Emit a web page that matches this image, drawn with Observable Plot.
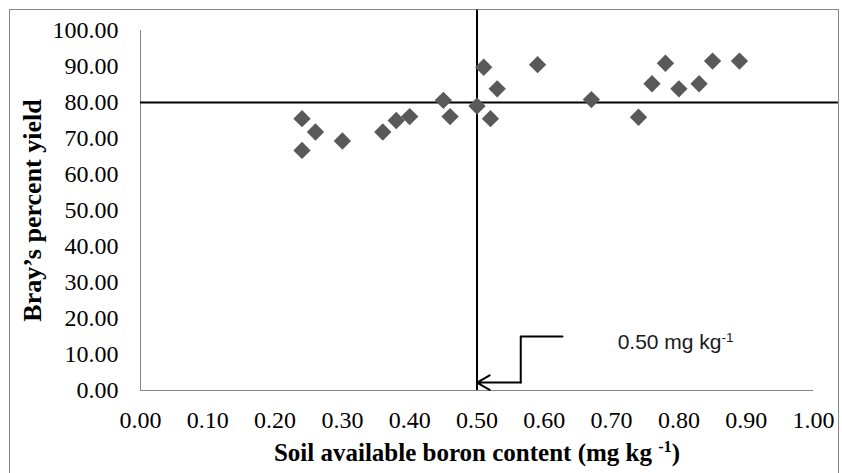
<!DOCTYPE html>
<html>
<head>
<meta charset="utf-8">
<script src="https://cdn.jsdelivr.net/npm/d3@7"></script>
<script src="https://cdn.jsdelivr.net/npm/@observablehq/plot@0.6"></script>
<style>
  html, body { margin: 0; padding: 0; background: #fff; }
  #wrap { position: relative; width: 842px; height: 473px; overflow: hidden; }
  #border { position: absolute; left: 9px; top: 9px; width: 830px; height: 480px; border: 1px solid #868686; box-sizing: border-box; }
  #chart { position: absolute; left: 0; top: 0; }
</style>
</head>
<body>
<div id="wrap"><div id="border"></div><div id="chart"></div></div>
<script>
// Soil available boron content (mg kg-1)
const boron = [0.24, 0.26, 0.24, 0.30, 0.36, 0.38, 0.40, 0.45, 0.46, 0.50, 0.51, 0.53, 0.52,
               0.59, 0.67, 0.74, 0.76, 0.78, 0.80, 0.83, 0.85, 0.89];
// Bray's percent yield
const yieldPct = [75.5, 71.8, 66.7, 69.3, 71.8, 75.0, 76.1, 80.6, 76.1, 79.0, 89.8, 83.8, 75.5,
                  90.5, 80.8, 75.9, 85.2, 90.9, 83.8, 85.2, 91.5, 91.5];
const xTicks = [0, 0.1, 0.2, 0.3, 0.4, 0.5, 0.6, 0.7, 0.8, 0.9, 1.0];
const yTicks = [0, 10, 20, 30, 40, 50, 60, 70, 80, 90, 100];
// critical limit lines
const criticalBoron = 0.50;
const criticalYield = 80;
// extents of the critical lines in data units
const vLineY = [0, 105.6];
const hLineX = [0, 1.037];
// callout connector (data units)
const calloutX = [0.627, 0.565, 0.565];
const calloutY = [15, 15, 2.2];
const calloutLabel = "0.50 mg kg-1";
const calloutLabelX = 0.709;

const points = boron.map((b, i) => ({b, y: yieldPct[i]}));
const callout = calloutX.map((x, i) => ({x, y: calloutY[i]}));

const chart = Plot.plot({
  width: 842,
  height: 473,
  marginLeft: 140,
  marginRight: 29,
  marginTop: 30,
  marginBottom: 83,
  style: {fontFamily: "'Liberation Serif', serif", fontSize: "24px", color: "#000", background: "transparent"},
  x: {domain: [0, 1], ticks: xTicks},
  y: {domain: [0, 100], ticks: yTicks},
  marks: [
    Plot.ruleX([0], {y1: 0, y2: 100, stroke: "#868686", strokeWidth: 1}),
    Plot.ruleY([0], {x1: 0, x2: 1, stroke: "#868686", strokeWidth: 1}),
    Plot.axisX({ticks: xTicks, tickSize: 0, tickPadding: 20, tickFormat: d => d.toFixed(2), fontSize: 24, label: null}),
    Plot.axisY({ticks: yTicks, tickSize: 0, tickPadding: 22, tickFormat: d => d.toFixed(2), fontSize: 24, label: null}),
    Plot.ruleX([criticalBoron], {y1: vLineY[0], y2: vLineY[1], stroke: "#000", strokeWidth: 2}),
    Plot.ruleY([criticalYield], {x1: hLineX[0], x2: hLineX[1], stroke: "#000", strokeWidth: 2}),
    Plot.dot(points, {x: "b", y: "y", symbol: "diamond2", r: 7.8, fill: "#595959", stroke: "none"}),
    Plot.line(callout, {x: "x", y: "y", stroke: "#000", strokeWidth: 2}),
    Plot.arrow([0], {x1: calloutX[2], y1: calloutY[2], x2: criticalBoron, y2: calloutY[2], stroke: "#000", strokeWidth: 2, headLength: 16, headAngle: 60}),
    Plot.text([calloutLabel], {x: calloutLabelX, y: calloutY[0], text: d => d, textAnchor: "start", dy: 6, fill: "#1a1a1a", fontFamily: "'Liberation Sans', sans-serif", fontSize: 21, className: "callout-label"}),
    Plot.text(["Bray\u2019s percent yield"], {frameAnchor: "left", textAnchor: "middle", dx: -108, rotate: -90, text: d => d, fontWeight: "bold", fontSize: 26}),
    Plot.text(["Soil available boron content (mg kg -1)"], {frameAnchor: "bottom", dy: 70, text: d => d, fontWeight: "bold", fontSize: 25, className: "x-title"})
  ]
});
document.getElementById("chart").appendChild(chart);

// superscript "-1" in the unit labels
function superscript(sel, base, sup, tail) {
  d3.select(chart).selectAll(sel).each(function () {
    const t = d3.select(this);
    t.text(null);
    t.append("tspan").text(base);
    t.append("tspan").attr("baseline-shift", "super").attr("font-size", "0.65em").text(sup);
    if (tail) t.append("tspan").text(tail);
  });
}
superscript(".x-title text", "Soil available boron content (mg kg ", "-1", ")");
superscript(".callout-label text", "0.50 mg kg", "-1", "");
</script>
</body>
</html>
